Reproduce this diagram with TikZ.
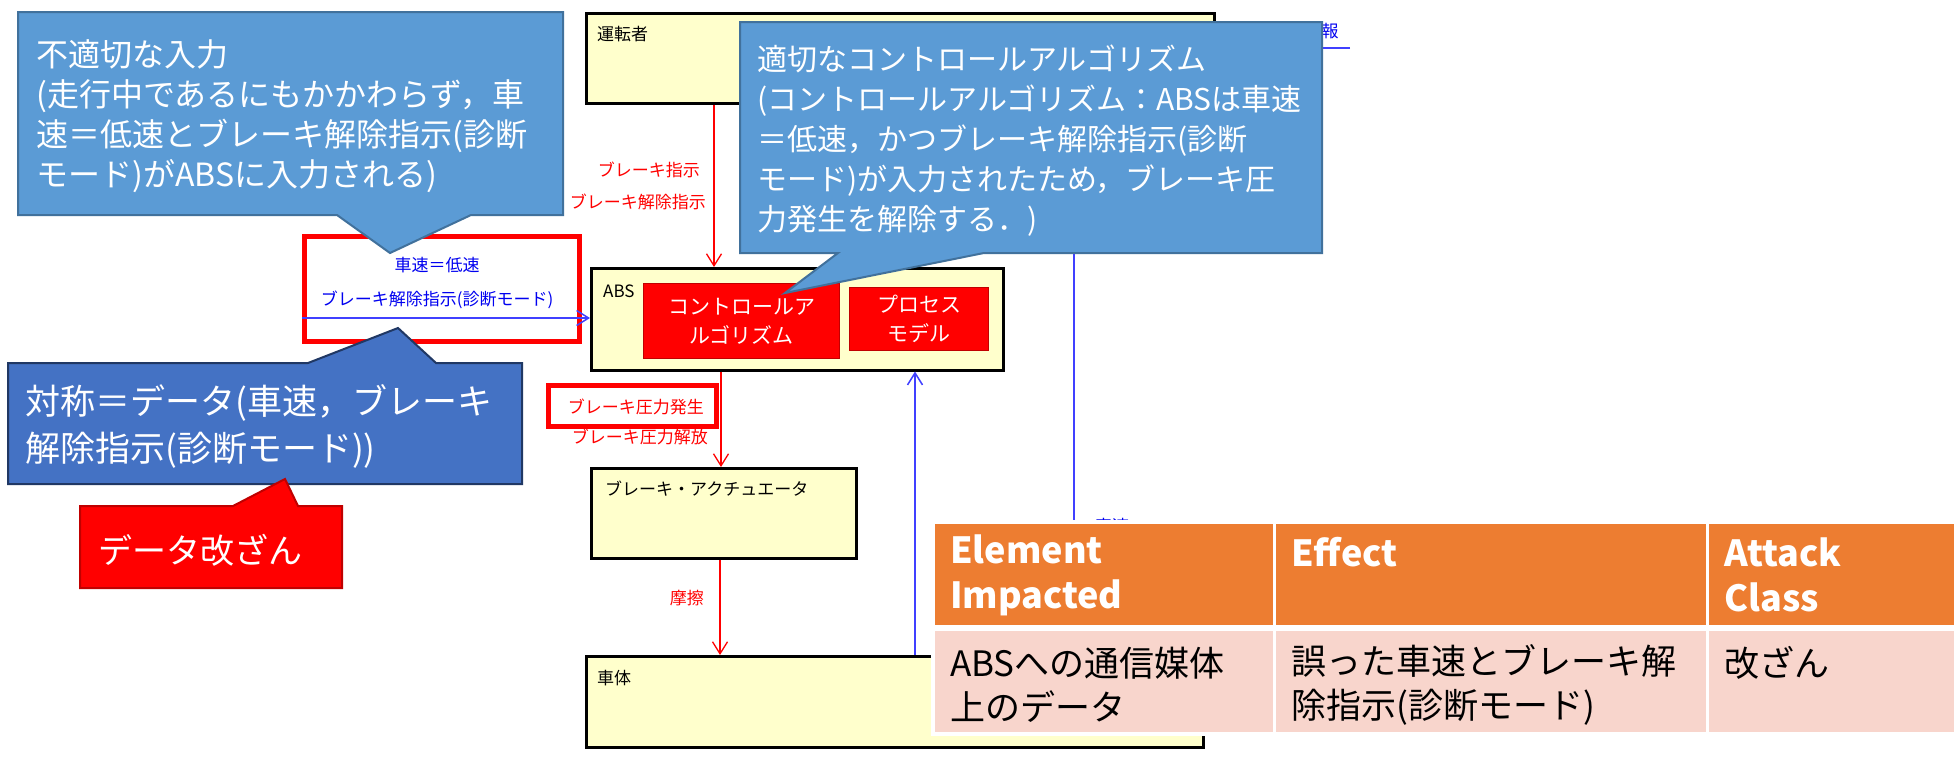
\documentclass[tikz,border=0pt]{standalone}
\usepackage{fontspec}
\setmainfont{Noto Sans CJK JP}
\usetikzlibrary{arrows.meta,positioning}

\definecolor{boxyellow}{HTML}{FFFFCC}
\definecolor{sigblue}{HTML}{4040FF}
\definecolor{txtblue}{HTML}{0000F0}
\definecolor{calloutblue}{HTML}{5B9BD5}
\definecolor{calloutedge}{HTML}{41719C}
\definecolor{symblue}{HTML}{4472C4}
\definecolor{symedge}{HTML}{203864}
\definecolor{tampedge}{HTML}{C00000}
\definecolor{hdorange}{HTML}{ED7D31}
\definecolor{rowpink}{HTML}{F8D5CC}

\begin{document}
\begin{tikzpicture}[
    x=1pt, y=-1pt,
    block/.style={draw=black, line width=2.5pt, fill=boxyellow, anchor=north west, inner sep=0pt},
    algbox/.style={draw=tampedge, line width=1pt, fill=red, text=white, align=center, anchor=north west,
      inner sep=0pt, font=\fontsize{21}{29}\selectfont},
    lbl/.style={anchor=west, inner sep=0pt, font=\fontsize{17}{20}\selectfont},
    redlbl/.style={lbl, text=red, anchor=east},
    bluelbl/.style={lbl, text=txtblue, anchor=center},
    redarrow/.style={-{Straight Barb[length=12pt,width=15pt]}, red, line width=1.3pt},
    bluearrow/.style={-{Straight Barb[length=12pt,width=15pt]}, sigblue, line width=1.5pt},
    hilite/.style={draw=red, line width=5pt, anchor=north west, inner sep=0pt},
    balloon/.style={line width=2pt, line join=miter},
    bigtext/.style={anchor=west, inner sep=0pt, align=left, text=white},
    tcell/.style={anchor=north west, inner sep=0pt, minimum height=101},
    hdtext/.style={anchor=west, inner sep=0pt, align=left, text=white, font=\bfseries\fontsize{36}{45}\selectfont},
    rowtext/.style={anchor=west, inner sep=0pt, align=left, font=\fontsize{35}{44}\selectfont}
  ]
    \fill[white] (0,0) rectangle (1959,756);
    \useasboundingbox (0,0) rectangle (1959,756);

    % control structure
    \node[block, minimum width=628, minimum height=90] (drv) at (585,12) {};
    \node[block, minimum width=412, minimum height=102] (abs) at (590,267) {};
    \node[block, minimum width=265, minimum height=90] (act) at (590,467) {};
    \node[block, minimum width=617, minimum height=91] (vbody) at (585,655) {};
    \node[lbl] (drvlbl) at (597,34) {運転者};
    \node[lbl] (abslbl) at (603,291) {ABS};
    \node[lbl] (actlbl) at (605,489) {ブレーキ・アクチュエータ};
    \node[lbl] (bodylbl) at (597,678) {車体};
    \node[algbox, minimum width=196, minimum height=75] (ctl) at (643,283) {コントロールア\\ルゴリズム};
    \node[algbox, minimum width=139, minimum height=63] (pmodel) at (849,287) {プロセス\\モデル};

    \draw[redarrow] (714,0 |- drv.south) -- (714,0 |- abs.north);
    \node[redlbl] (brk) at (700,170) {ブレーキ指示};
    \node[redlbl] (brkrel) at (706,202) {ブレーキ解除指示};
    \draw[redarrow] (721,0 |- abs.south) -- (721,0 |- act.north);
    \node[redlbl] (press) at (704,407) {ブレーキ圧力発生};
    \node[redlbl] (release) at (708,437) {ブレーキ圧力解放};
    \draw[redarrow] (720,0 |- act.south) -- (720,0 |- vbody.north);
    \node[redlbl] (fric) at (704,598) {摩擦};

    \draw[bluearrow] (915,0 |- vbody.north) -- (915,0 |- abs.south);
    \draw[bluearrow] (1074,0 |- vbody.north) -- (1074,0 |- drv.south);
    \node[bluelbl] (spdfb) at (1112,526) {車速};
    \coordinate (infoend) at (1350,48);
    \draw[bluearrow] (infoend) -- (infoend -| drv.east);
    \node[bluelbl] (info) at (1330,31) {報};

    \node[bluelbl] (spd) at (437,265) {車速＝低速};
    \node[bluelbl] (relmode) at (437,300) {ブレーキ解除指示(診断モード)};
    \node[hilite, minimum width=275, minimum height=105] (hlspeed) at (302,234) {};
    \node[hilite, minimum width=168, minimum height=41] (hlpress) at (546,383) {};
    \draw[bluearrow] (hlspeed.west |- 0,318) -- (abs.west |- 0,318);

    % callouts
    \filldraw[balloon, fill=calloutblue, draw=calloutedge]
      (18,12) -- (563,12) -- (563,215) -- (471,215) -- (390,253) -- (337,215) -- (18,215) -- cycle;
    \node[bigtext, font=\fontsize{32}{40}\selectfont] (wronginput) at (36,116)
      {不適切な入力\\(走行中であるにもかかわらず，車\\速＝低速とブレーキ解除指示(診断\\モード)がABSに入力される)};

    \filldraw[balloon, fill=calloutblue, draw=calloutedge]
      (740,22) -- (1322,22) -- (1322,253) -- (984,253) -- (785,293) -- (838,253) -- (740,253) -- cycle;
    \node[bigtext, font=\fontsize{30}{40}\selectfont] (rightalg) at (757,141)
      {適切なコントロールアルゴリズム\\(コントロールアルゴリズム：ABSは車速\\＝低速，かつブレーキ解除指示(診断\\モード)が入力されたため，ブレーキ圧\\力発生を解除する．)};

    \filldraw[balloon, fill=symblue, draw=symedge]
      (8,363) -- (308,363) -- (398,328) -- (436,363) -- (522,363) -- (522,484) -- (8,484) -- cycle;
    \node[bigtext, font=\fontsize{35}{47}\selectfont] (symdata) at (25,426)
      {対称＝データ(車速，ブレーキ\\解除指示(診断モード))};

    \filldraw[balloon, fill=red, draw=tampedge]
      (80,506) -- (233,506) -- (285,479) -- (298,506) -- (342,506) -- (342,588) -- (80,588) -- cycle;
    \node[bigtext, font=\fontsize{34}{44}\selectfont] (tamper) at (98,550) {データ改ざん};

    % impact table
    \fill[white] (931,520) rectangle (1958,736);
    \foreach \x/\w/\n in {935/338/a, 1276/430/b, 1709/245/c} {
      \node[tcell, fill=hdorange, minimum width=\w] (h\n) at (\x,524) {};
      \node[tcell, fill=rowpink, minimum width=\w] (r\n) at (\x,631) {};
    }
    \node[hdtext] (elem) at (950,575) {Element\\Impacted};
    \node[hdtext] (eff) at (1291,552) {Effect};
    \node[hdtext] (cls) at (1724,575) {Attack\\Class};
    \node[rowtext] (elemval) at (950,685) {ABSへの通信媒体\\上のデータ};
    \node[rowtext] (effval) at (1291,685) {誤った車速とブレーキ解\\除指示(診断モード)};
    \node[rowtext] (clsval) at (1724,663) {改ざん};
  \end{tikzpicture}
\end{document}
